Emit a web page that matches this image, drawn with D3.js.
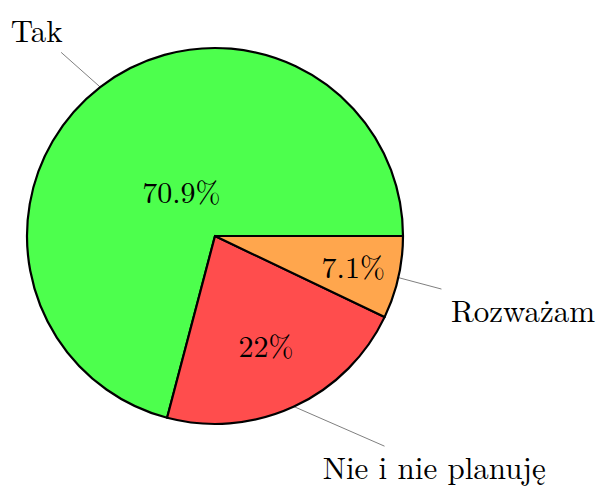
<!DOCTYPE html>
<html>
<head>
<meta charset="utf-8">
<script src="https://cdn.jsdelivr.net/npm/d3@7"></script>
<style>
  body { margin: 0; background: #fff; }
</style>
</head>
<body>
<div id="chart"></div>
<script>
// dane
const categories = ['Tak', 'Nie i nie planuję', 'Rozważam']
const values = [70.9, 22, 7.1]
const valueLabels = ['70.9%', '22%', '7.1%']
const colors = ['#4dff4d', '#ff4d4d', '#ffa64d']

// kierunek i długość linii do etykiet (stopnie, od krawędzi koła)
const pinAngle = [138.4, 336.4, 345.1]
const pinLength = [85, 153, 129]

const width = 599
const height = 487
const cx = 215
const cy = 236
const radius = 188
const valueFontSize = 30
const labelFontSize = 31
const fontFamily = 'Latin Modern Roman, Liberation Serif, serif'

const svg = d3.select('#chart')
  .append('svg')
  .attr('width', width)
  .attr('height', height)

svg.append('rect')
  .attr('width', width)
  .attr('height', height)
  .attr('fill', '#fff')

const g = svg.append('g')
  .attr('transform', `translate(${cx},${cy})`)

// start na wschodzie, przeciwnie do ruchu wskazówek zegara
const pie = d3.pie()
  .sort(null)
  .value(d => d)
  .startAngle(Math.PI / 2)
  .endAngle(Math.PI / 2 - 2 * Math.PI)

const arcs = pie(values)
const total = d3.sum(values)

const arc = d3.arc()
  .innerRadius(0)
  .outerRadius(radius)

g.selectAll('.slice')
  .data(arcs)
  .enter()
  .append('path')
  .attr('class', 'slice')
  .attr('d', arc)
  .attr('fill', (d, i) => colors[i])
  .attr('stroke', '#000')
  .attr('stroke-width', 2.2)
  .attr('stroke-linejoin', 'round')

function midAngle (d) {
  return (d.startAngle + d.endAngle) / 2
}

// procenty w środku
g.selectAll('.value')
  .data(arcs)
  .enter()
  .append('text')
  .attr('class', 'value')
  .attr('font-family', fontFamily)
  .attr('font-size', valueFontSize)
  .attr('text-anchor', 'middle')
  .attr('x', d => {
    const r = radius * (0.8053 - 0.7226 * d.value / total)
    return Math.sin(midAngle(d)) * r
  })
  .attr('y', d => {
    const r = radius * (0.8053 - 0.7226 * d.value / total)
    return -Math.cos(midAngle(d)) * r + valueFontSize * 0.36
  })
  .text((d, i) => valueLabels[i])

// etykiety z linią
arcs.forEach((d, i) => {
  const a = midAngle(d)
  const ex = Math.sin(a) * radius
  const ey = -Math.cos(a) * radius
  const t = pinAngle[i] * Math.PI / 180
  const ux = Math.cos(t)
  const uy = -Math.sin(t)
  const lx = ex + ux * pinLength[i]
  const ly = ey + uy * pinLength[i]

  const label = g.append('text')
    .attr('font-family', fontFamily)
    .attr('font-size', labelFontSize)
    .attr('text-anchor', 'middle')
    .attr('x', lx)
    .attr('y', ly + labelFontSize * 0.37)
    .text(categories[i])

  const hw = label.node().getBBox().width / 2 + 11
  const hh = 21.7
  const s = Math.min(hw / Math.abs(ux), hh / Math.abs(uy))

  g.insert('line', '.slice')
    .attr('x1', ex)
    .attr('y1', ey)
    .attr('x2', lx - ux * s)
    .attr('y2', ly - uy * s)
    .attr('stroke', '#808080')
    .attr('stroke-width', 1)
})
</script>
</body>
</html>
